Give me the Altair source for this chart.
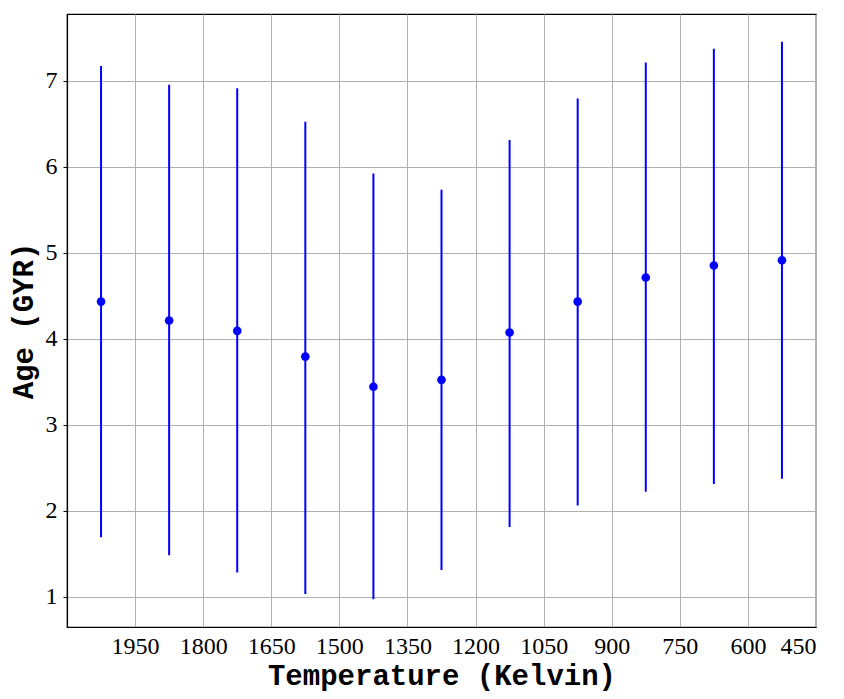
import altair as alt
import pandas as pd

temperature = [2025, 1875, 1725, 1575, 1425, 1275, 1125, 975, 825, 675, 525]
age = [4.43, 4.21, 4.09, 3.79, 3.44, 3.52, 4.07, 4.43, 4.71, 4.85, 4.91]
age_low = [1.69, 1.48, 1.28, 1.03, 0.97, 1.31, 1.81, 2.06, 2.22, 2.31, 2.37]
age_high = [7.17, 6.95, 6.91, 6.52, 5.92, 5.73, 6.31, 6.79, 7.21, 7.37, 7.45]
x_ticks = [1950, 1800, 1650, 1500, 1350, 1200, 1050, 900, 750, 600, 450]
y_ticks = [1, 2, 3, 4, 5, 6, 7]

df = pd.DataFrame({"T": temperature, "age": age, "lo": age_low, "hi": age_high})

xs = alt.Scale(domain=[2100, 450], nice=False, zero=False)
ys = alt.Scale(domain=[0.646, 7.774], nice=False, zero=False)

x_axis = alt.Axis(values=x_ticks, title="Temperature (Kelvin)", format="d",
                  grid=True, ticks=False, labelPadding=7, titlePadding=3)
y_axis = alt.Axis(values=y_ticks, title="Age (GYR)", format="d",
                  grid=True, ticks=True, tickSize=4, labelPadding=6, titlePadding=7)

bars = alt.Chart(df).mark_rule(color="#0000ff", strokeWidth=2).encode(
    x=alt.X("T:Q", scale=xs, axis=x_axis),
    y=alt.Y("lo:Q", scale=ys, axis=y_axis),
    y2="hi:Q",
)
pts = alt.Chart(df).mark_circle(color="#0000ff", size=75, opacity=1).encode(
    x=alt.X("T:Q", scale=xs),
    y=alt.Y("age:Q", scale=ys),
)

chart = (bars + pts).properties(
    width=749, height=613,
    autosize=alt.AutoSizeParams(type="none"),
    padding={"left": 59, "top": 6, "right": 12, "bottom": 74},
).configure_view(stroke="black", strokeWidth=1.2).configure_axis(
    gridColor="#b0b0b0", gridWidth=1, domainColor="black", domainWidth=1.2,
    tickColor="black",
    labelFont="Liberation Serif", labelFontSize=24, labelColor="black",
    titleFont="Liberation Mono", titleFontSize=29, titleFontWeight="bold",
    titleColor="black",
)

chart.save("out.html", embed_options={"renderer": "svg", "actions": False})
